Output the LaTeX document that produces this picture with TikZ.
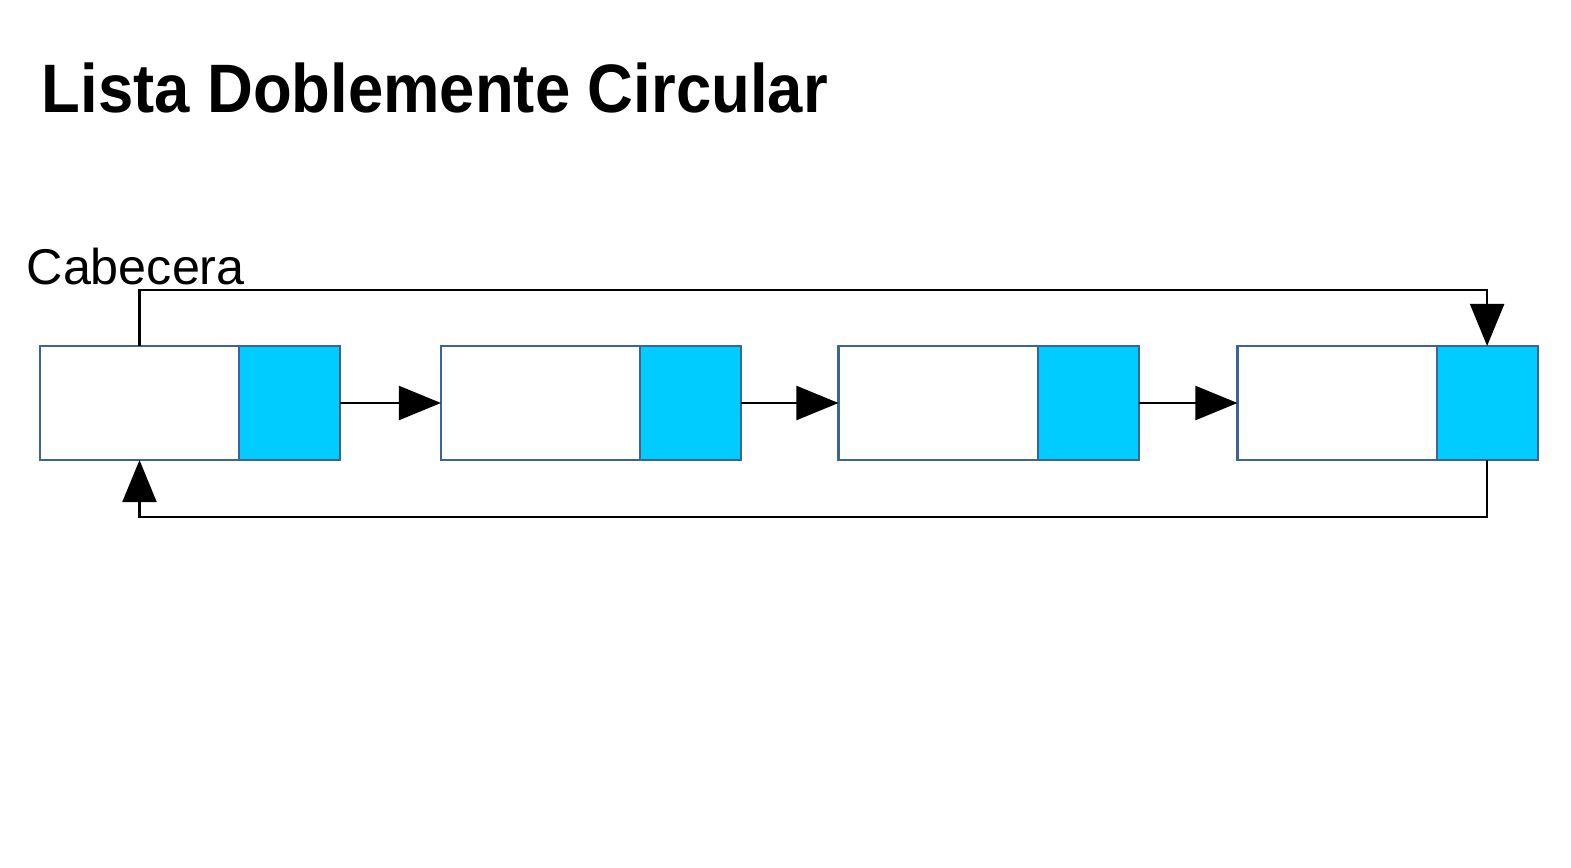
\documentclass[tikz,border=0pt]{standalone}
\usepackage{fontspec}
\setmainfont{Liberation Sans}
\usetikzlibrary{arrows.meta,positioning}
\definecolor{NodeEdge}{HTML}{3D6399}
\definecolor{PtrFill}{HTML}{00CCFF}

\begin{document}
\begin{tikzpicture}[
  x=0.01cm,y=-0.01cm,
  >={Triangle[length=4.2mm,width=3.4mm]},
  dato/.style={draw=NodeEdge, line width=0.6pt, fill=white, minimum width=1.99cm, minimum height=1.14cm, inner sep=0pt, outer sep=0pt},
  ptr/.style={dato, fill=PtrFill, minimum width=1.01cm},
  link/.style={->, line width=0.6pt, draw=black},
  titulo/.style={anchor=base west, inner sep=0pt, font=\bfseries\fontsize{19.5}{22}\selectfont},
  etiqueta/.style={anchor=base west, inner sep=0pt, font=\fontsize{14.3}{16}\selectfont}
]
\useasboundingbox (0,0) rectangle (1571,867);

\node[titulo] (tit) at (41,113) {\scalebox{0.925}[1]{Lista Doblemente Circular}};
\node[etiqueta] (cab) at (26,284) {Cabecera};

% nodos de la lista
\node[dato] (d1) at (139.5,403) {};
\node[ptr, right=0pt of d1] (p1) {};
\node[dato] (d2) at (540.5,403) {};
\node[ptr, right=0pt of d2] (p2) {};
\node[dato] (d3) at (938,403) {};
\node[ptr, right=0pt of d3] (p3) {};
\node[dato] (d4) at (1337,403) {};
\node[ptr, right=0pt of d4] (p4) {};

% enlaces
\draw[link] (p1.east) -- (d2.west);
\draw[link] (p2.east) -- (d3.west);
\draw[link] (p3.east) -- (d4.west);

% cierre circular
\draw[link] (d1.north) -- ++(0,-56) -| (p4.north);
\draw[link] (p4.south) -- ++(0,57) -| (d1.south);

\end{tikzpicture}
\end{document}
